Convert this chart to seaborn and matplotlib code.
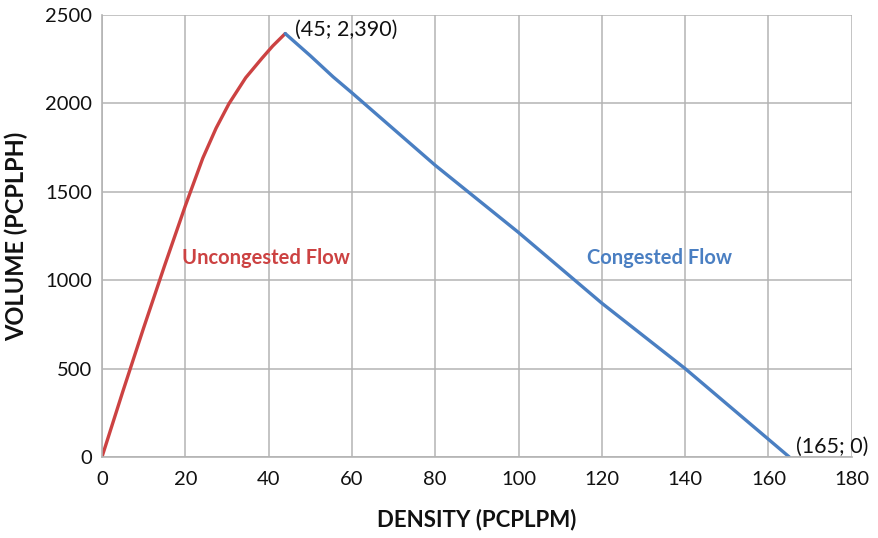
import matplotlib
matplotlib.use("Agg")
import matplotlib.pyplot as plt
import seaborn as sns
import pandas as pd

# Data
uncongested_density = [0, 5, 10, 15, 20, 24.2, 27.4, 30.5, 34.5, 38.4, 41, 44]
uncongested_volume = [0, 370, 730, 1080, 1420, 1690, 1860, 1999, 2145, 2255, 2325, 2395]
congested_density = [44, 50, 55.5, 60, 80, 100, 120, 140, 165]
congested_volume = [2395, 2270, 2150, 2060, 1650, 1270, 870, 500, 0]

x_ticks = [0, 20, 40, 60, 80, 100, 120, 140, 160, 180]
y_ticks = [0, 500, 1000, 1500, 2000, 2500]

red = "#cc4242"
blue = "#4a7fc2"
grid = "#b4b4b4"

sns.set_theme(style="white")
plt.rcParams['font.family'] = ['Lato', 'DejaVu Sans']

df_u = pd.DataFrame({"density": uncongested_density, "volume": uncongested_volume})
df_c = pd.DataFrame({"density": congested_density, "volume": congested_volume})

fig = plt.figure(figsize=(8.79, 5.38), dpi=100)
ax = fig.add_axes([0.116, 0.1506, 0.853, 0.8215])

sns.lineplot(data=df_u, x="density", y="volume", ax=ax, color=red, linewidth=2.4,
             sort=False, estimator=None)
sns.lineplot(data=df_c, x="density", y="volume", ax=ax, color=blue, linewidth=2.4,
             sort=False, estimator=None)

ax.set_xlim(0, 180)
ax.set_ylim(0, 2500)
ax.set_xticks(x_ticks)
ax.set_yticks(y_ticks)
ax.grid(True, color=grid, linewidth=1.1)
ax.set_axisbelow(True)
for s in ax.spines.values():
    s.set_visible(False)
for s in ["left", "bottom"]:
    ax.spines[s].set_visible(True)
    ax.spines[s].set_color(grid)
    ax.spines[s].set_linewidth(1.2)

ax.tick_params(axis="both", which="both", direction="out", length=5, width=1.1,
               color=grid, labelsize=14.5, labelcolor="#111111", pad=2)
ax.tick_params(axis="x", pad=5)

ax.set_xlabel("DENSITY (PCPLPM)", fontsize=16, fontweight="bold", labelpad=15, color="#111111")
ax.set_ylabel("VOLUME (PCPLPH)", fontsize=17, fontweight="bold", labelpad=12, color="#111111")

ax.text(46.3, 2415, "(45; 2,390)", fontsize=15.5, va="center", ha="left", color="#111111")
ax.text(19.2, 1124, "Uncongested Flow", fontsize=14.5, fontweight="bold", va="center", ha="left", color=red)
ax.text(116.5, 1124, "Congested Flow", fontsize=14.5, fontweight="bold", va="center", ha="left", color=blue)
ax.text(166.7, 55, "(165; 0)", fontsize=15.5, va="center", ha="left", color="#111111", clip_on=False)

fig.savefig("out.png", dpi=100)
